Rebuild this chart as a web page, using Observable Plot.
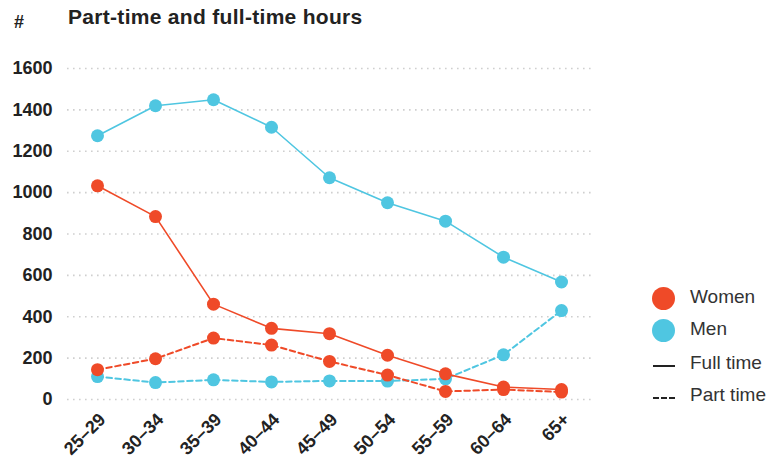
<!DOCTYPE html>
<html>
<head>
<meta charset="utf-8">
<script src="https://cdn.jsdelivr.net/npm/d3@7"></script>
<script src="https://cdn.jsdelivr.net/npm/@observablehq/plot@0.6"></script>
<style>
  html, body { margin: 0; padding: 0; background: #fff; }
  #wrap { position: relative; width: 769px; height: 462px; font-family: "Liberation Sans", Arial, sans-serif; color: #222; overflow: hidden; }
  #header { position: relative; height: 45px; }
  #hash { position: absolute; left: 14px; top: 12px; font-size: 18px; font-weight: bold; }
  #title { position: absolute; left: 68px; top: 5px; font-size: 21px; font-weight: bold; letter-spacing: 0.3px; }
  #legend { position: absolute; left: 651px; top: 285px; font-size: 19px; color: #333; }
  .item { position: absolute; left: 0; height: 28px; width: 120px; }
  .item span.lbl { position: absolute; left: 39px; top: 1px; white-space: nowrap; }
  .sw { position: absolute; left: 1px; top: 2px; width: 23px; height: 23px; border-radius: 50%; }
  .ln { position: absolute; left: 2px; top: 14px; width: 22px; height: 0; border-top: 2px solid #222; }
  .ln.dash { border-top: 2px dashed #222; }
</style>
</head>
<body>
<div id="wrap">
  <div id="header"><div id="hash">#</div><div id="title">Part-time and full-time hours</div></div>
  <div id="chart"></div>
  <div id="legend"></div>
</div>
<script>
const ages = ["25–29", "30–34", "35–39", "40–44", "45–49", "50–54", "55–59", "60–64", "65+"];
const womenFull = [1033, 884, 461, 344, 318, 214, 124, 60, 48];
const womenPart = [144, 197, 297, 263, 184, 118, 39, 48, 36];
const menFull = [1275, 1420, 1449, 1316, 1072, 951, 862, 688, 568];
const menPart = [111, 82, 95, 85, 90, 89, 100, 216, 430];
const yTicks = [0, 200, 400, 600, 800, 1000, 1200, 1400, 1600];
const sexes = ["Women", "Men"];
const sexColors = ["#ef4a28", "#4fc6e1"];
const typeLabels = ["Full time", "Part time"];

const series = [
  {sex: "Men", type: "Full time", values: menFull},
  {sex: "Men", type: "Part time", values: menPart},
  {sex: "Women", type: "Full time", values: womenFull},
  {sex: "Women", type: "Part time", values: womenPart}
];
const rows = [];
series.forEach(s => s.values.forEach((v, i) => rows.push({age: ages[i], sex: s.sex, type: s.type, value: v})));

const marks = [
  Plot.ruleY(yTicks, {stroke: "#cfcfcf", strokeWidth: 1.6, strokeDasharray: "1.6,4.4", strokeLinecap: "butt"}),
  Plot.axisY({ticks: yTicks, tickFormat: d => String(d), tickSize: 0, tickPadding: 15, fontSize: 18, fontWeight: "bold", label: null}),
  Plot.axisX({tickSize: 0, tickRotate: -45, tickPadding: 17, dx: 5, fontSize: 18, fontWeight: "bold", label: null})
];
for (const sex of ["Men", "Women"]) {
  const d = rows.filter(r => r.sex === sex);
  marks.push(Plot.lineY(d.filter(r => r.type === "Full time"), {x: "age", y: "value", stroke: "sex", strokeWidth: 1.6}));
  marks.push(Plot.lineY(d.filter(r => r.type === "Part time"), {x: "age", y: "value", stroke: "sex", strokeWidth: 2, strokeDasharray: "5.5,3.5"}));
  marks.push(Plot.dot(d, {x: "age", y: "value", fill: "sex", r: 6.5}));
}

const chart = Plot.plot({
  width: 769,
  height: 417,
  marginLeft: 67,
  marginRight: 178,
  marginTop: 23,
  marginBottom: 63,
  style: {fontFamily: "Liberation Sans, Arial, sans-serif", color: "#222", background: "transparent", overflow: "visible"},
  x: {type: "point", domain: ages, padding: 0.5, axis: null},
  y: {domain: [0, 1600], axis: null},
  color: {domain: sexes, range: sexColors},
  marks
});
document.getElementById("chart").appendChild(chart);

const legend = document.getElementById("legend");
const items = [
  {kind: "dot", color: sexColors[0], label: sexes[0]},
  {kind: "dot", color: sexColors[1], label: sexes[1]},
  {kind: "line", label: typeLabels[0]},
  {kind: "dash", label: typeLabels[1]}
];
const tops = [0, 32, 66, 98];
items.forEach((it, i) => {
  const el = document.createElement("div");
  el.className = "item";
  el.style.top = tops[i] + "px";
  const sw = document.createElement("div");
  if (it.kind === "dot") { sw.className = "sw"; sw.style.background = it.color; }
  else { sw.className = "ln" + (it.kind === "dash" ? " dash" : ""); }
  el.appendChild(sw);
  const t = document.createElement("span");
  t.className = "lbl";
  t.textContent = it.label;
  el.appendChild(t);
  legend.appendChild(el);
});
</script>
</body>
</html>
